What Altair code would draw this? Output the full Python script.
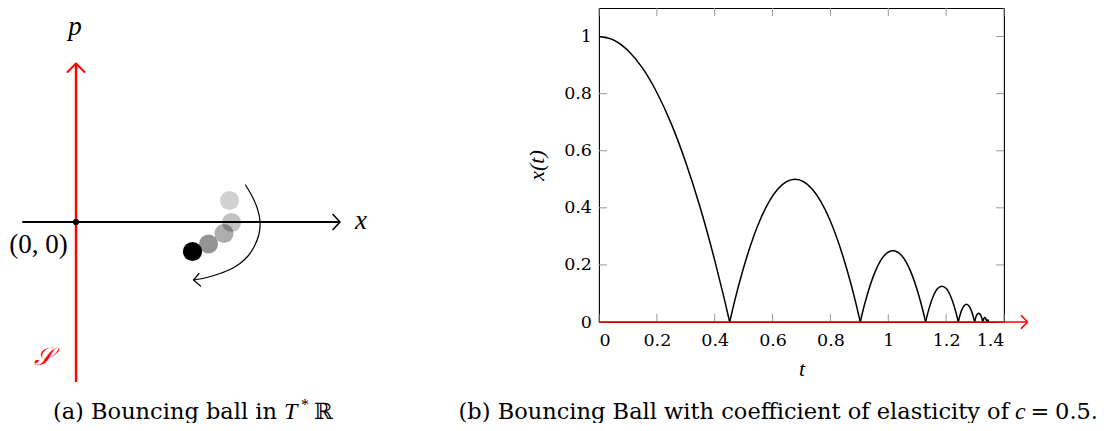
import altair as alt
import pandas as pd

# ---------------- panel (b): trajectory of the bouncing ball ----------------
arc1_t = [0.0, 0.05, 0.10, 0.15, 0.20, 0.25, 0.30, 0.35, 0.40, 0.43, 0.4517]
arc1_x = [1.0, 0.988, 0.951, 0.890, 0.804, 0.694, 0.559, 0.400, 0.216, 0.094, 0.0]
arc2_t = [0.4517, 0.4675, 0.4975, 0.5575, 0.6175, 0.6775, 0.7375, 0.7975, 0.8575, 0.8875, 0.9033]
arc2_x = [0.0, 0.068, 0.182, 0.359, 0.465, 0.500, 0.465, 0.359, 0.182, 0.068, 0.0]
arc3_t = [0.9033, 0.9111, 0.9261, 0.9561, 0.9861, 1.0161, 1.0461, 1.0761, 1.1061, 1.1211, 1.1290]
arc3_x = [0.0, 0.034, 0.091, 0.180, 0.233, 0.250, 0.233, 0.180, 0.091, 0.034, 0.0]
arc4_t = [1.1290, 1.1330, 1.1405, 1.1555, 1.1705, 1.1855, 1.2005, 1.2155, 1.2305, 1.2380, 1.2419]
arc4_x = [0.0, 0.017, 0.046, 0.090, 0.117, 0.125, 0.117, 0.090, 0.046, 0.017, 0.0]
arc5_t = [1.2419, 1.2476, 1.2551, 1.2626, 1.2701, 1.2776, 1.2851, 1.2926, 1.2984]
arc5_x = [0.0, 0.023, 0.045, 0.058, 0.0625, 0.058, 0.045, 0.023, 0.0]
arc6_t = [1.2984, 1.3019, 1.3055, 1.3125, 1.3195, 1.3231, 1.3266]
arc6_x = [0.0, 0.014, 0.024, 0.031, 0.024, 0.014, 0.0]
arc7_t = [1.3266, 1.3301, 1.3337, 1.3372, 1.3407]
arc7_x = [0.0, 0.012, 0.016, 0.012, 0.0]
arc8_t = [1.3407, 1.3443, 1.3478]
arc8_x = [0.0, 0.008, 0.0]

x_ticks = [0, 0.2, 0.4, 0.6, 0.8, 1.0, 1.2, 1.4]
y_ticks = [0, 0.2, 0.4, 0.6, 0.8, 1.0]
t_domain = [0, 1.4]
x_domain = [0, 1.1]
ground_t = [0.0, 1.4795]
ground_x = [0.0, 0.0]
cap_b_main = ["(b) Bouncing Ball with coefficient of elasticity of"]
cap_b_c = ["c"]
cap_b_eq = ["="]
cap_b_num = ["0.5."]

# ---------------- panel (a): phase-space sketch (page pixel coordinates) ----------------
haxis_px = [23, 339]
haxis_py = [222, 222]
hhead_px = [333, 340, 333]
hhead_py = [214.5, 222, 229.5]
vaxis_px = [76, 76]
vaxis_py = [381, 64]
vhead_px = [67.5, 76, 84.5]
vhead_py = [72, 63.5, 72]
ghead_px = [1021.5, 1027.5, 1021.5]
ghead_py = [315.7, 322, 328.3]
swing_px = [245.5, 252.5, 257.5, 260, 259, 254, 248, 240, 230, 220, 207, 194]
swing_py = [185, 197, 209, 221, 234, 247, 256, 263.5, 269.5, 273.5, 277.5, 280]
swing_head_px = [199, 193.5, 200.5]
swing_head_py = [273.5, 280, 286]
ball_px = [229.5, 231.5, 224, 208.5, 192.5]
ball_py = [200.5, 222.5, 233.5, 244, 251.5]
ball_alpha = [0.18, 0.24, 0.32, 0.42, 1.0]
origin_px = [76]
origin_py = [222]
italic_labels = ["p", "x"]
italic_px = [75, 361]
italic_py = [35, 229]
origin_label = ["(0, 0)"]
origin_label_px = [38.5]
origin_label_py = [253]
set_label = ["𝒮"]
set_label_px = [43]
set_label_py = [365]
cap_a_main = ["(a) Bouncing ball in"]
cap_a_T = ["T"]
cap_a_star = ["*"]
cap_a_R = ["ℝ"]

ROMAN = "DejaVu Serif"
MATH = "Liberation Serif"
W, H = 405, 314

# ---------- build panel (b) ----------
arcs_t = [arc1_t, arc2_t, arc3_t, arc4_t, arc5_t, arc6_t, arc7_t, arc8_t]
arcs_x = [arc1_x, arc2_x, arc3_x, arc4_x, arc5_x, arc6_x, arc7_x, arc8_x]
rows = []
for k, (ts, xs) in enumerate(zip(arcs_t, arcs_x)):
    for tv, xv in zip(ts, xs):
        rows.append({"arc": k, "t": tv, "x": xv})
curve_df = pd.DataFrame(rows)

TS = alt.Scale(domain=t_domain, nice=False, zero=False)
XS = alt.Scale(domain=x_domain, nice=False, zero=False)

x_axis = alt.Axis(values=x_ticks, format="~g", title="t", ticks=False, tickSize=0,
                  domain=False, grid=False, labelPadding=9, titleY=53, titleX=W / 2,
                  titleBaseline="alphabetic")
y_axis = alt.Axis(values=y_ticks, format="~g", title="x(t)", ticks=False, tickSize=0,
                  domain=False, grid=False, labelPadding=7.5, titleX=-51, titleY=157)

curve = alt.Chart(curve_df).mark_line(color="black", strokeWidth=1.5,
                                       interpolate="monotone").encode(
    x=alt.X("t:Q", scale=TS, axis=x_axis),
    y=alt.Y("x:Q", scale=XS, axis=y_axis),
    detail="arc:N",
)

xt_df = pd.DataFrame({"t": x_ticks})
yt_df = pd.DataFrame({"x": y_ticks})
TICK = "#9a9a9a"
tick_bottom = alt.Chart(xt_df).mark_rule(color=TICK, strokeWidth=1).encode(
    x=alt.X("t:Q", scale=TS), y=alt.value(H), y2=alt.value(H - 8))
tick_top = alt.Chart(xt_df).mark_rule(color=TICK, strokeWidth=1).encode(
    x=alt.X("t:Q", scale=TS), y=alt.value(0), y2=alt.value(8))
tick_left = alt.Chart(yt_df).mark_rule(color=TICK, strokeWidth=1).encode(
    y=alt.Y("x:Q", scale=XS), x=alt.value(0), x2=alt.value(8))
tick_right = alt.Chart(yt_df).mark_rule(color=TICK, strokeWidth=1).encode(
    y=alt.Y("x:Q", scale=XS), x=alt.value(W), x2=alt.value(W - 8))

ground = alt.Chart(pd.DataFrame({"t": ground_t, "x": ground_x})).mark_line(
    color="red", strokeWidth=1.6).encode(
    x=alt.X("t:Q", scale=TS), y=alt.Y("x:Q", scale=XS))

plot_b = alt.layer(tick_bottom, tick_top, tick_left, tick_right, curve, ground)

# ---------- build panel (a) and captions ----------
DX = alt.Scale(domain=[599, 599 + W], nice=False, zero=False)
DY = alt.Scale(domain=[8, 8 + H], nice=False, zero=False, reverse=True)


def enc_xy():
    return dict(x=alt.X("px:Q", scale=DX, axis=None),
                y=alt.Y("py:Q", scale=DY, axis=None))


def path_layer(px, py, color, width, interp="linear"):
    df = pd.DataFrame({"px": px, "py": py, "ord": list(range(len(px)))})
    return alt.Chart(df).mark_line(color=color, strokeWidth=width, interpolate=interp,
                                   strokeCap="round", strokeJoin="round").encode(
        order="ord:Q", **enc_xy())


def text_layer(px, py, labels, size, color="black", style="normal", align="center",
               font=ROMAN):
    df = pd.DataFrame({"px": px, "py": py, "label": labels})
    return alt.Chart(df).mark_text(font=font, fontSize=size, fontStyle=style, color=color,
                                   align=align, baseline="alphabetic").encode(
        text="label:N", **enc_xy())


balls_df = pd.DataFrame({"px": ball_px, "py": ball_py, "alpha": ball_alpha,
                         "ord": list(range(len(ball_px)))})
balls = alt.Chart(balls_df).mark_circle(color="black", size=365).encode(
    opacity=alt.Opacity("alpha:Q", scale=None), order="ord:Q", **enc_xy())
origin = alt.Chart(pd.DataFrame({"px": origin_px, "py": origin_py})).mark_circle(
    color="black", size=38, opacity=1).encode(**enc_xy())

diagram = alt.layer(
    path_layer(haxis_px, haxis_py, "black", 2),
    path_layer(hhead_px, hhead_py, "black", 1.6),
    path_layer(vaxis_px, vaxis_py, "red", 2.4),
    path_layer(vhead_px, vhead_py, "red", 2.0),
    path_layer(ghead_px, ghead_py, "red", 1.6),
    balls,
    path_layer(swing_px, swing_py, "black", 1.2, "catmull-rom"),
    path_layer(swing_head_px, swing_head_py, "black", 1.2),
    origin,
    text_layer(italic_px, italic_py, italic_labels, 27, style="italic", font=MATH),
    text_layer(origin_label_px, origin_label_py, origin_label, 27, font=MATH),
    text_layer(set_label_px, set_label_py, set_label, 25, color="red", style="italic",
               font=MATH),
    text_layer([277], [419], cap_a_main, 22.5, align="right"),
    text_layer([284], [419], cap_a_T, 24, style="italic", align="left", font=MATH),
    text_layer([301], [410], cap_a_star, 16, align="left", font=MATH),
    text_layer([314], [419], cap_a_R, 22.5, align="left"),
    text_layer([1009], [419], cap_b_main, 22.5, align="right"),
    text_layer([1015], [419], cap_b_c, 24, style="italic", align="left", font=MATH),
    text_layer([1040], [419], cap_b_eq, 22.5),
    text_layer([1098], [419], cap_b_num, 22.5, align="right"),
)

chart = alt.layer(plot_b, diagram).resolve_scale(
    x="independent", y="independent"
).properties(
    width=W, height=H,
    autosize=alt.AutoSizeParams(type="none"),
    padding={"left": 591, "top": 0, "right": 100, "bottom": 101},
).configure_view(
    stroke="black", strokeWidth=1.1
).configure_axis(
    labelFont=ROMAN, labelFontSize=17.5, labelColor="black",
    titleFont=MATH, titleFontSize=22, titleFontStyle="italic", titleFontWeight="normal",
    titleColor="black",
)

chart.save("out.html", embed_options={"renderer": "svg", "actions": False})
